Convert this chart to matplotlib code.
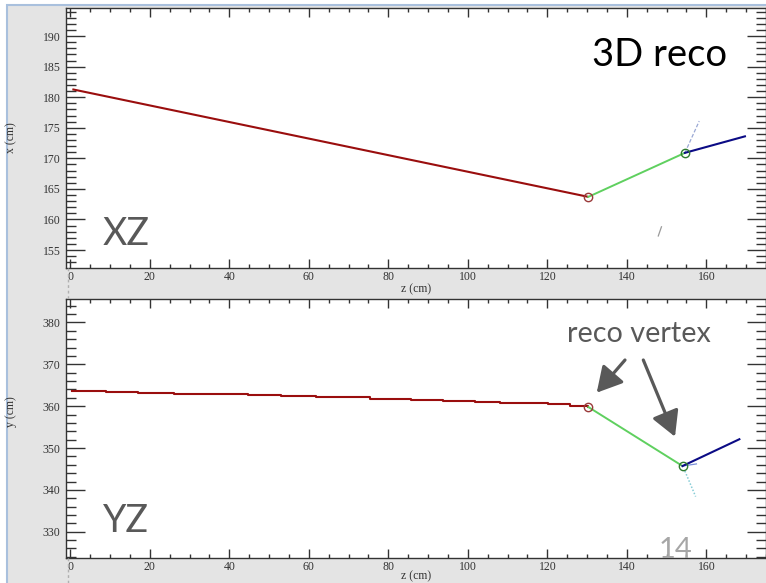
import matplotlib
matplotlib.use("Agg")
import matplotlib.pyplot as plt
from matplotlib.patches import Rectangle, FancyArrowPatch
from matplotlib.lines import Line2D
from matplotlib.ticker import MultipleLocator

# ---------------- data ----------------
xz_red_z = [0.5, 130.3]
xz_red_x = [181.3, 163.7]
xz_green_z = [130.3, 154.6]
xz_green_x = [163.7, 170.9]
xz_blue_z = [154.6, 169.7]
xz_blue_x = [170.9, 173.6]
xz_faint_z = [154.6, 158.2]
xz_faint_x = [170.9, 176.1]
xz_speck_z = [147.9, 148.7]
xz_speck_x = [157.3, 158.8]
xz_vertex_z = [130.3, 154.6]
xz_vertex_x = [163.7, 170.9]

yz_red_z = [0.5, 9, 17, 26, 36, 44.7, 53.1, 61.9, 75.3, 85.8, 93.8, 101.8, 108.0, 120.2, 125.7, 130.3]
yz_red_y = [363.6, 363.4, 363.2, 363.0, 362.8, 362.6, 362.4, 362.1, 361.7, 361.4, 361.2, 360.9, 360.7, 360.4, 360.0, 359.8]
yz_green_z = [130.3, 154.0]
yz_green_y = [359.8, 345.7]
yz_blue_z = [154.0, 168.3]
yz_blue_y = [345.7, 352.1]
yz_cyan_z = [154.6, 157.3]
yz_cyan_y = [344.5, 338.4]
yz_stub_z = [154.0, 157.5]
yz_stub_y = [345.7, 346.2]
yz_vertex_z = [130.3, 154.0]
yz_vertex_y = [359.8, 345.7]

x_ticks = [0, 20, 40, 60, 80, 100, 120, 140, 160]
xz_yticks = [155, 160, 165, 170, 175, 180, 185, 190]
yz_yticks = [330, 340, 350, 360, 370, 380]

W, H = 766, 583
fig = plt.figure(figsize=(W / 100, H / 100), dpi=100)
fig.patch.set_facecolor("white")

# slide frame / gray background
fig.patches.append(Rectangle((7 / W, -0.01), 1.0, 1 - 5 / H + 0.01, transform=fig.transFigure,
                             facecolor="#e4e4e4", edgecolor="#a9c0dd", linewidth=1.5, zorder=-5))

def px(x, y):
    return (x / W, 1 - y / H)

serif = "Liberation Serif"
RED = "#9a0e0e"
GREEN = "#5fd05f"
BLUE = "#0b0b85"

def style_axes(ax, ylim, yticks, yminor, ylabel, ylab_y, xlabpad):
    ax.set_facecolor("white")
    ax.set_xlim(-1.1, 175)
    ax.set_ylim(*ylim)
    ax.set_xticks(x_ticks)
    ax.set_yticks(yticks)
    ax.xaxis.set_minor_locator(MultipleLocator(5))
    ax.yaxis.set_minor_locator(MultipleLocator(yminor))
    ax.tick_params(axis="both", which="both", direction="in", top=True, right=True,
                   colors="#333333", labelsize=8.5)
    ax.tick_params(axis="x", which="major", length=6.5, width=1, pad=2.5)
    ax.tick_params(axis="x", which="minor", length=3.2, width=1)
    ax.tick_params(axis="y", which="major", length=14, width=1, pad=4)
    ax.tick_params(axis="y", which="minor", length=7, width=1)
    for lab in ax.get_xticklabels() + ax.get_yticklabels():
        lab.set_fontfamily(serif)
        lab.set_color("#333333")
    for s in ax.spines.values():
        s.set_color("#333333")
        s.set_linewidth(1)
    ax.set_xlabel("z (cm)", fontfamily=serif, fontsize=8.5, color="#333333", labelpad=xlabpad)
    ax.set_ylabel(ylabel, fontfamily=serif, fontsize=8.5, color="#333333")
    ax.yaxis.set_label_coords(-0.07, ylab_y)

ax1 = fig.add_axes([66 / W, 1 - 268 / H, 1 - 66 / W, 260 / H])
ax2 = fig.add_axes([66 / W, 1 - 557.7 / H, 1 - 66 / W, 258.7 / H])

style_axes(ax1, (152.06, 194.6), xz_yticks, 1, "x (cm)", 0.5, 0)
style_axes(ax2, (323.8, 385.6), yz_yticks, 2, "y (cm)", 0.563, -2)

# XZ view
ax1.plot(xz_faint_z, xz_faint_x, color="#9aa8d4", lw=0.9, ls=(0, (3, 1.5)), zorder=2)
ax1.plot(xz_speck_z, xz_speck_x, color="#9a9a9a", lw=0.9, zorder=2)
ax1.plot(xz_red_z, xz_red_x, color=RED, lw=1.5, solid_capstyle="butt", zorder=3)
ax1.plot(xz_green_z, xz_green_x, color=GREEN, lw=1.4, zorder=3)
ax1.plot(xz_blue_z, xz_blue_x, color=BLUE, lw=1.5, zorder=3)
ax1.plot(xz_vertex_z[:1], xz_vertex_x[:1], "o", mfc="none", mec="#9a3a3a", ms=6, mew=1.0, zorder=4)
ax1.plot(xz_vertex_z[1:], xz_vertex_x[1:], "o", mfc="none", mec="#2f7a2f", ms=6, mew=1.0, zorder=4)

# YZ view
ax2.plot(yz_cyan_z, yz_cyan_y, color="#86ccd6", lw=1.1, ls=(0, (1, 1.2)), zorder=2)
ax2.plot(yz_stub_z, yz_stub_y, color="#7a90d8", lw=0.9, zorder=2)
ax2.plot(yz_red_z, yz_red_y, color=RED, lw=1.5, drawstyle="steps-post", zorder=3)
ax2.plot(yz_green_z, yz_green_y, color=GREEN, lw=1.4, zorder=3)
ax2.plot(yz_blue_z, yz_blue_y, color=BLUE, lw=1.5, zorder=3)
ax2.plot(yz_vertex_z[:1], yz_vertex_y[:1], "o", mfc="none", mec="#9a3a3a", ms=6, mew=1.0, zorder=4)
ax2.plot(yz_vertex_z[1:], yz_vertex_y[1:], "o", mfc="none", mec="#2f7a2f", ms=6, mew=1.0, zorder=4)

# dashed vertical guide in the gray bands
for y0, y1 in [(268, 299), (557.7, 590)]:
    fig.add_artist(Line2D([68 / W, 68 / W], [1 - y0 / H, 1 - y1 / H], transform=fig.transFigure,
                          color="#b0b0b0", lw=1, ls=(0, (2, 2)), zorder=1))

# slide annotations
sans = ["Lato", "DejaVu Sans"]
fig.text(*px(591.7, 65.7), "3D reco", fontsize=27.5, family=sans, color="black", ha="left", va="baseline")
fig.text(*px(103, 245), "XZ", fontsize=27, family=sans, color="#595959", ha="left", va="baseline")
fig.text(*px(103, 531.7), "YZ", fontsize=27, family=sans, color="#595959", ha="left", va="baseline")
fig.text(*px(566.7, 341.7), "reco vertex", fontsize=20.7, family=sans, color="#595959", ha="left", va="baseline")
fig.text(*px(659, 557.7), "14", fontsize=21, family=sans, color="#a6a6a6", ha="left", va="baseline")

for (x0, y0), (x1, y1) in [((625, 360), (596.7, 392.7)), ((643.3, 360), (675, 436.7))]:
    arr = FancyArrowPatch(px(x0, y0), px(x1, y1), transform=fig.transFigure,
                          arrowstyle="-|>,head_length=0.9,head_width=0.5", mutation_scale=17,
                          color="#595959", lw=2.3, shrinkA=0, shrinkB=0, zorder=6)
    fig.add_artist(arr)

fig.savefig("out.png", dpi=100)
